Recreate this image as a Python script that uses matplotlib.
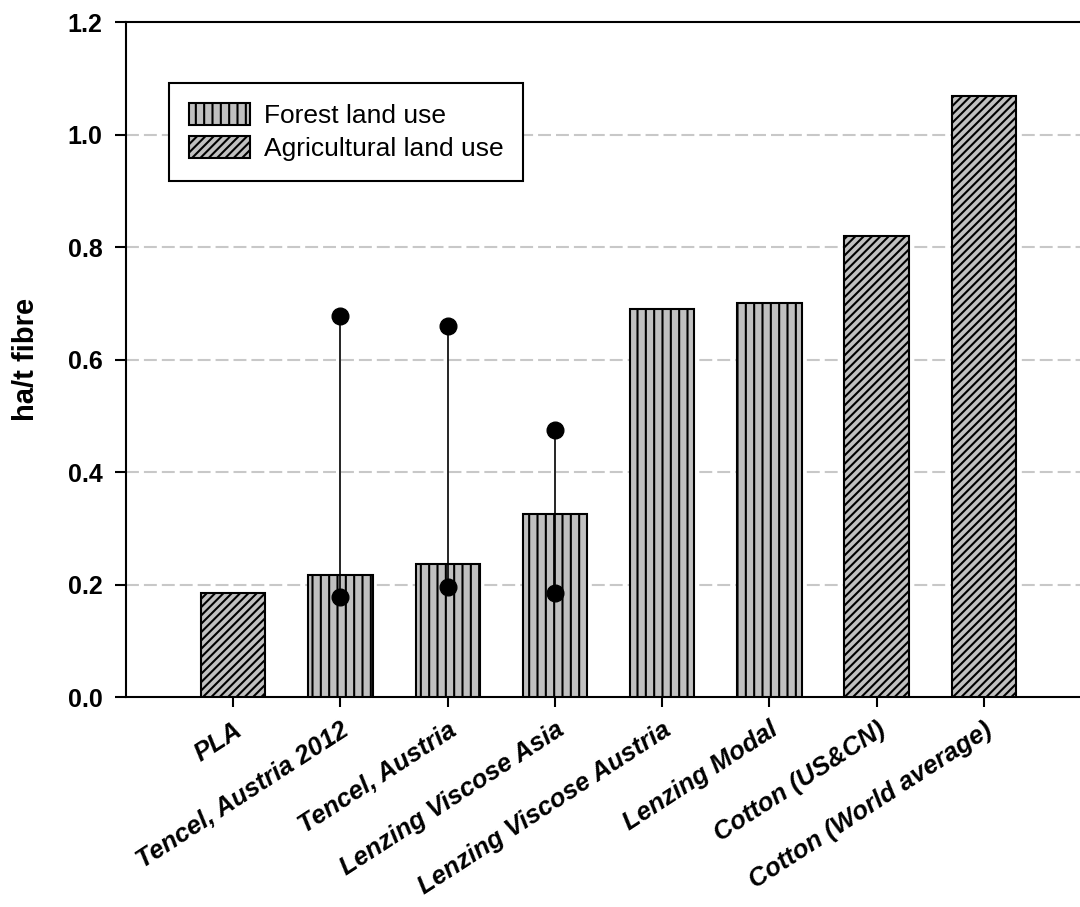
import matplotlib.pyplot as plt
import matplotlib.transforms as mtransforms
from matplotlib.patches import Patch

plt.rcParams['font.family'] = ['Liberation Sans', 'DejaVu Sans']
plt.rcParams['hatch.linewidth'] = 1.5

# land use per tonne of fibre
products = ['PLA', 'Tencel, Austria 2012', 'Tencel, Austria', 'Lenzing Viscose Asia',
            'Lenzing Viscose Austria', 'Lenzing Modal', 'Cotton (US&CN)',
            'Cotton (World average)']
land_use = [0.185, 0.217, 0.236, 0.325, 0.689, 0.701, 0.82, 1.069]
land_type = ['agri', 'forest', 'forest', 'forest', 'forest', 'forest', 'agri', 'agri']

# ranges shown for three of the wood-based fibres
range_idx = [1, 2, 3]
range_min = [0.178, 0.196, 0.185]
range_max = [0.677, 0.660, 0.475]

hatches = {'forest': '||', 'agri': '////'}

fig = plt.figure(figsize=(10.8, 9.07), dpi=100)
ax = fig.add_axes([0.1167, 0.2315, 0.8935, 0.7442])

x = list(range(len(products)))
ax.bar(x, land_use, width=0.6, color='#c0c0c0', edgecolor='black', linewidth=1.5,
       hatch=[hatches[t] for t in land_type], zorder=3)

ax.vlines(range_idx, range_min, range_max, color='black', linewidth=1.2, zorder=4)
ax.plot(range_idx, range_min, 'o', color='black', markersize=12, zorder=5)
ax.plot(range_idx, range_max, 'o', color='black', markersize=12, zorder=5)

ax.set_xlim(-1, 8)
ax.set_ylim(0, 1.2)
ax.set_yticks([0.0, 0.2, 0.4, 0.6, 0.8, 1.0, 1.2])
ax.set_yticklabels(['%.1f' % v for v in ax.get_yticks()], fontsize=18, fontweight='bold')
ax.set_xticks(x)
ax.set_xticklabels(products, rotation=33, ha='right', va='top', rotation_mode='anchor',
                   fontsize=18.5, fontweight='bold', fontstyle='italic')
# nudge the slanted labels so their ends sit under the ticks
shift = mtransforms.ScaledTranslation(-5 / 100, 0, fig.dpi_scale_trans)
for lab in ax.get_xticklabels():
    lab.set_transform(lab.get_transform() + shift)

ax.tick_params(axis='y', direction='out', length=8, width=1.5, pad=9)
ax.tick_params(axis='x', direction='out', length=7, width=1.5, pad=8)
ax.set_ylabel('ha/t fibre', fontsize=21, fontweight='bold')
ax.yaxis.set_label_coords(-0.089, 0.5)

for y in [0.2, 0.4, 0.6, 0.8, 1.0]:
    ax.axhline(y, color='#c8c8c8', linewidth=1.5, linestyle=(0, (6.2, 2.4)), zorder=1)

for side in ['left', 'top', 'bottom']:
    ax.spines[side].set_linewidth(1.5)
ax.spines['right'].set_visible(False)

handles = [Patch(facecolor='#c0c0c0', edgecolor='black', hatch='||', linewidth=1.5),
           Patch(facecolor='#c0c0c0', edgecolor='black', hatch='////', linewidth=1.5)]
leg = ax.legend(handles, ['Forest land use', 'Agricultural land use'],
                loc='upper left', bbox_to_anchor=(0.0446, 0.9096), fontsize=19,
                fancybox=False, edgecolor='black', framealpha=1,
                handlelength=2.3, handleheight=0.9, handletextpad=0.55,
                borderpad=0.75, labelspacing=0.3, borderaxespad=0)
leg.get_frame().set_linewidth(1.5)

fig.savefig('out.png', dpi=100)
